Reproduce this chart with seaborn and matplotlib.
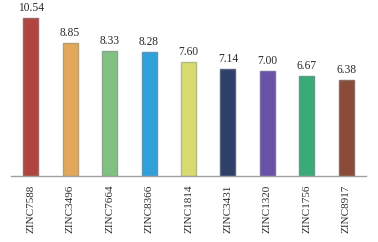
import matplotlib
matplotlib.use("Agg")
import matplotlib.pyplot as plt
import seaborn as sns
import pandas as pd
from matplotlib.colors import to_rgb

names = ["ZINC7588", "ZINC3496", "ZINC7664", "ZINC8366", "ZINC1814",
         "ZINC3431", "ZINC1320", "ZINC1756", "ZINC8917"]
values = [10.54, 8.85, 8.33, 8.28, 7.60, 7.14, 7.00, 6.67, 6.38]
colors = ["#b04540", "#e0a858", "#80c080", "#30a0d8", "#d8dc70",
          "#2e3f68", "#6a52a8", "#3aaa78", "#8a4c38"]

sns.set_theme(style="white")
plt.rcParams['font.family'] = ['Liberation Serif', 'DejaVu Serif']

df = pd.DataFrame({"name": names, "value": values})

fig = plt.figure(figsize=(3.78, 2.42), dpi=100)
ax = fig.add_axes([11/378, 66/242, 355/378, 176/242])
sns.barplot(data=df, x="name", y="value", hue="name", palette=colors,
            legend=False, width=0.38, ax=ax, saturation=1)

def edge(c):
    r, g, b = to_rgb(c)
    m = 0.55
    gray = (0.55, 0.55, 0.6)
    return (r*m + gray[0]*(1-m), g*m + gray[1]*(1-m), b*m + gray[2]*(1-m))

for p, c in zip(ax.patches, colors):
    p.set_edgecolor(edge(c))
    p.set_linewidth(1.0)

for i, v in enumerate(values):
    ax.annotate(f"{v:.2f}", (i, v), xytext=(0, 3.0), textcoords="offset points",
                ha="center", va="bottom", fontsize=8.3, color="#2a2a2a")

ax.set_ylim(0, 176/15)
ax.set_xlim(-0.5, len(names) - 0.5)
for s in ["top", "right", "left"]:
    ax.spines[s].set_visible(False)
ax.spines["bottom"].set_color("#a0a0a0")
ax.spines["bottom"].set_linewidth(1.0)
ax.set_yticks([])
ax.set_xlabel("")
ax.set_ylabel("")
ax.tick_params(axis="x", length=0, pad=6, labelsize=8.0, colors="#2a2a2a")
for lab in ax.get_xticklabels():
    lab.set_rotation(90)
    lab.set_va("top")

fig.savefig("out.png", dpi=100)
